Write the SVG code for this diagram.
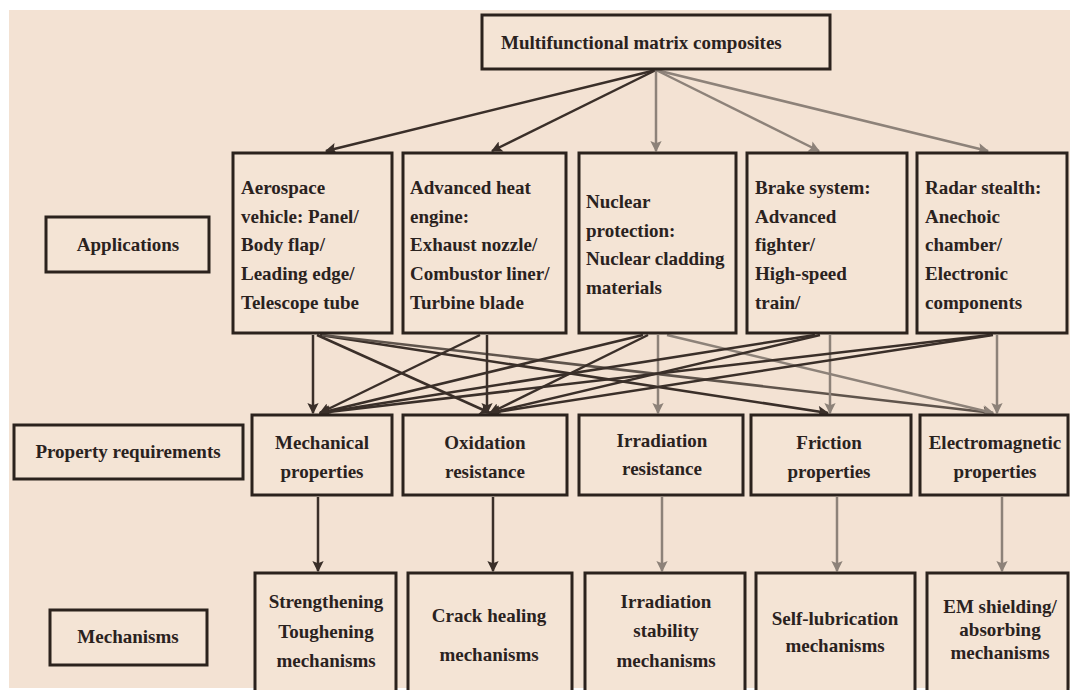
<svg xmlns="http://www.w3.org/2000/svg" width="1070" height="690" viewBox="0 0 1070 690">
<defs>
<style>
.bg{fill:#f3e2d3}
.box{fill:#f4e4d5;stroke:#2b221d;stroke-width:3}
.t{font-family:"Liberation Serif","Times New Roman",serif;font-weight:bold;font-size:19px;fill:#2a221e}
.c{text-anchor:middle}
.dk{stroke:#3a2f29;stroke-width:2.5;fill:none;marker-end:url(#ad)}
.md{stroke:#5f544c;stroke-width:2.5;fill:none;marker-end:url(#am)}
.gy{stroke:#8d8279;stroke-width:2.5;fill:none;marker-end:url(#ag)}
</style>
<marker id="ad" viewBox="0 0 10 10" refX="9" refY="5" markerWidth="5" markerHeight="4.5" orient="auto" markerUnits="strokeWidth"><path d="M0,0 L10,5 L0,10 L2,5 z" fill="#3a2f29"/></marker>
<marker id="am" viewBox="0 0 10 10" refX="9" refY="5" markerWidth="5" markerHeight="4.5" orient="auto" markerUnits="strokeWidth"><path d="M0,0 L10,5 L0,10 L2,5 z" fill="#5f544c"/></marker>
<marker id="ag" viewBox="0 0 10 10" refX="9" refY="5" markerWidth="5" markerHeight="4.5" orient="auto" markerUnits="strokeWidth"><path d="M0,0 L10,5 L0,10 L2,5 z" fill="#8d8279"/></marker>
</defs>
<rect x="0" y="0" width="1070" height="690" fill="#ffffff"/>
<rect class="bg" x="9" y="10" width="1061" height="678"/>

<g id="connectors">
<line class="dk" x1="656" y1="70" x2="326" y2="151"/>
<line class="dk" x1="656" y1="70" x2="492" y2="151"/>
<line class="gy" x1="656" y1="70" x2="656" y2="151"/>
<line class="gy" x1="656" y1="70" x2="819" y2="151"/>
<line class="gy" x1="656" y1="70" x2="988" y2="151"/>

<line class="dk" x1="313" y1="335" x2="313" y2="413"/>
<line class="dk" x1="317" y1="335" x2="490" y2="413"/>
<line class="dk" x1="320" y1="335" x2="828" y2="413"/>
<line class="md" x1="322" y1="335" x2="993" y2="413"/>
<line class="dk" x1="487" y1="335" x2="487" y2="413"/>
<line class="dk" x1="480" y1="335" x2="320" y2="413"/>
<line class="dk" x1="643" y1="335" x2="320" y2="413"/>
<line class="dk" x1="648" y1="335" x2="490" y2="413"/>
<line class="gy" x1="658" y1="335" x2="658" y2="413"/>
<line class="gy" x1="667" y1="335" x2="993" y2="413"/>
<line class="dk" x1="815" y1="335" x2="320" y2="413"/>
<line class="dk" x1="820" y1="335" x2="490" y2="413"/>
<line class="gy" x1="830" y1="335" x2="830" y2="413"/>
<line class="dk" x1="990" y1="335" x2="320" y2="413"/>
<line class="dk" x1="993" y1="335" x2="490" y2="413"/>
<line class="gy" x1="997" y1="335" x2="997" y2="413"/>

<line class="dk" x1="318" y1="497" x2="318" y2="571"/>
<line class="dk" x1="493" y1="497" x2="493" y2="571"/>
<line class="gy" x1="662" y1="497" x2="662" y2="571"/>
<line class="gy" x1="837" y1="497" x2="837" y2="571"/>
<line class="gy" x1="1002" y1="497" x2="1002" y2="571"/>
</g>

<g id="top"><rect class="box" x="482" y="15" width="348" height="54"/><text class="t" x="501" y="49">Multifunctional matrix composites</text></g>

<g id="lbl-applications"><rect class="box" x="46" y="217" width="163" height="55"/><text class="t c" x="128" y="251">Applications</text></g>
<g id="lbl-property"><rect class="box" x="14" y="425" width="229" height="54"/><text class="t c" x="128" y="458">Property requirements</text></g>
<g id="lbl-mechanisms"><rect class="box" x="50" y="610" width="157" height="55"/><text class="t c" x="128" y="643">Mechanisms</text></g>

<g id="app-aerospace"><rect class="box" x="233" y="153" width="159" height="180"/>
<text class="t" x="241"><tspan x="241" y="194">Aerospace</tspan><tspan x="241" y="222.7">vehicle: Panel/</tspan><tspan x="241" y="251.4">Body flap/</tspan><tspan x="241" y="280.1">Leading edge/</tspan><tspan x="241" y="308.8">Telescope tube</tspan></text></g>
<g id="app-engine"><rect class="box" x="403" y="153" width="163" height="180"/>
<text class="t" x="410"><tspan x="410" y="194">Advanced heat</tspan><tspan x="410" y="222.7">engine:</tspan><tspan x="410" y="251.4">Exhaust nozzle/</tspan><tspan x="410" y="280.1">Combustor liner/</tspan><tspan x="410" y="308.8">Turbine blade</tspan></text></g>
<g id="app-nuclear"><rect class="box" x="579" y="153" width="157" height="180"/>
<text class="t" x="586"><tspan x="586" y="208">Nuclear</tspan><tspan x="586" y="236.7">protection:</tspan><tspan x="586" y="265.4">Nuclear cladding</tspan><tspan x="586" y="294.1">materials</tspan></text></g>
<g id="app-brake"><rect class="box" x="747" y="153" width="160" height="180"/>
<text class="t" x="755"><tspan x="755" y="194">Brake system:</tspan><tspan x="755" y="222.7">Advanced</tspan><tspan x="755" y="251.4">fighter/</tspan><tspan x="755" y="280.1">High-speed</tspan><tspan x="755" y="308.8">train/</tspan></text></g>
<g id="app-radar"><rect class="box" x="917" y="153" width="150" height="180"/>
<text class="t" x="925"><tspan x="925" y="194">Radar stealth:</tspan><tspan x="925" y="222.7">Anechoic</tspan><tspan x="925" y="251.4">chamber/</tspan><tspan x="925" y="280.1">Electronic</tspan><tspan x="925" y="308.8">components</tspan></text></g>

<g id="prop-mechanical"><rect class="box" x="252" y="415" width="140" height="80"/>
<text class="t c"><tspan x="322" y="449">Mechanical</tspan><tspan x="322" y="478">properties</tspan></text></g>
<g id="prop-oxidation"><rect class="box" x="403" y="415" width="164" height="80"/>
<text class="t c"><tspan x="485" y="449">Oxidation</tspan><tspan x="485" y="478">resistance</tspan></text></g>
<g id="prop-irradiation"><rect class="box" x="579" y="415" width="164" height="80"/>
<text class="t c"><tspan x="662" y="447">Irradiation</tspan><tspan x="662" y="475">resistance</tspan></text></g>
<g id="prop-friction"><rect class="box" x="751" y="415" width="160" height="80"/>
<text class="t c"><tspan x="829" y="449">Friction</tspan><tspan x="829" y="478">properties</tspan></text></g>
<g id="prop-em"><rect class="box" x="920" y="415" width="148" height="80"/>
<text class="t c"><tspan x="995" y="449">Electromagnetic</tspan><tspan x="995" y="478">properties</tspan></text></g>

<g id="mech-strength"><rect class="box" x="255" y="573" width="141" height="130"/>
<text class="t c"><tspan x="326" y="608">Strengthening</tspan><tspan x="326" y="638">Toughening</tspan><tspan x="326" y="667">mechanisms</tspan></text></g>
<g id="mech-crack"><rect class="box" x="408" y="573" width="164" height="130"/>
<text class="t c"><tspan x="489" y="622">Crack healing</tspan><tspan x="489" y="661">mechanisms</tspan></text></g>
<g id="mech-irradiation"><rect class="box" x="585" y="573" width="160" height="130"/>
<text class="t c"><tspan x="666" y="608">Irradiation</tspan><tspan x="666" y="637">stability</tspan><tspan x="666" y="667">mechanisms</tspan></text></g>
<g id="mech-lubrication"><rect class="box" x="756" y="573" width="159" height="130"/>
<text class="t c"><tspan x="835" y="625">Self-lubrication</tspan><tspan x="835" y="652">mechanisms</tspan></text></g>
<g id="mech-em"><rect class="box" x="927" y="573" width="141" height="130"/>
<text class="t c"><tspan x="1000" y="613">EM shielding/</tspan><tspan x="1000" y="636">absorbing</tspan><tspan x="1000" y="659">mechanisms</tspan></text></g>
</svg>
